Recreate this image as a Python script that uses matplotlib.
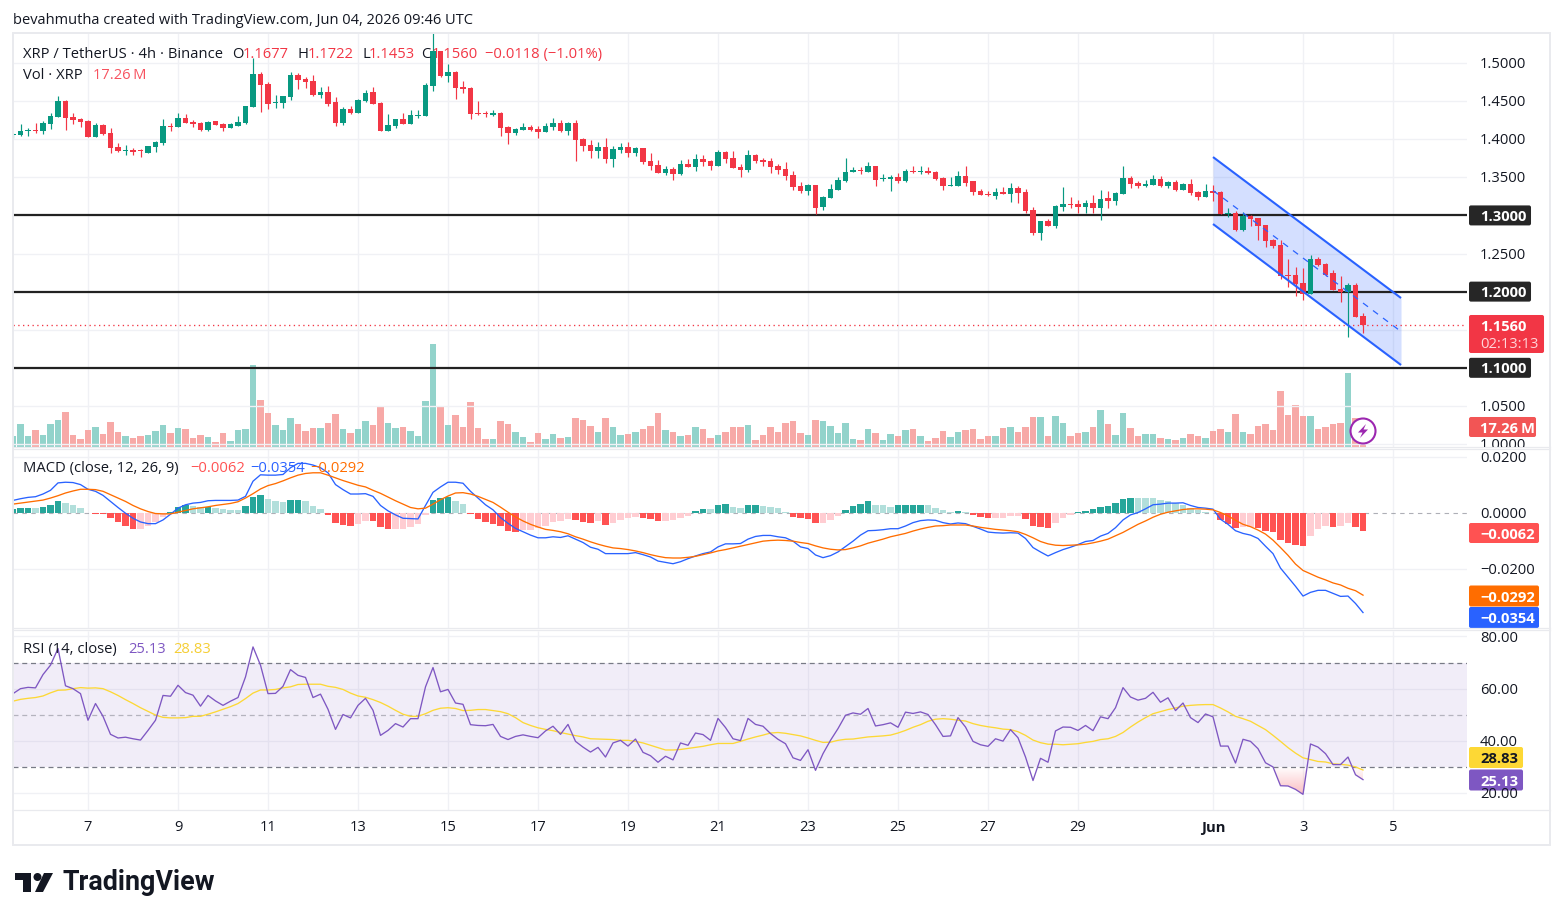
import numpy as np
import matplotlib
matplotlib.use("Agg")
import matplotlib.pyplot as plt
from matplotlib.patches import Rectangle, FancyBboxPatch, Circle, Polygon
from matplotlib.path import Path
from matplotlib.transforms import Bbox

# XRP/USDT 4h candles
opens = [
    1.4051,1.4051,1.4108,1.4121,1.4108,1.4199,1.4291,1.4501,1.4291,1.4265,
    1.4239,1.4029,1.4186,1.4081,1.3898,1.3845,1.3858,1.3858,1.3819,1.3898,
    1.3950,1.4173,1.4160,1.4278,1.4226,1.4213,1.4121,1.4239,1.4199,1.4147,
    1.4173,1.4213,1.4422,1.4856,1.4724,1.4475,1.4475,1.4554,1.4842,1.4790,
    1.4764,1.4580,1.4619,1.4488,1.4213,1.4396,1.4344,1.4501,1.4619,1.4475,
    1.4108,1.4173,1.4265,1.4199,1.4304,1.4304,1.4698,1.5157,1.4829,1.4882,
    1.4685,1.4672,1.4344,1.4344,1.4318,1.4343,1.4160,1.4081,1.4120,1.4160,
    1.4133,1.4094,1.4160,1.4212,1.4107,1.4212,1.4002,1.3923,1.3845,1.3897,
    1.3740,1.3858,1.3897,1.3818,1.3884,1.3713,1.3661,1.3556,1.3608,1.3543,
    1.3674,1.3635,1.3740,1.3713,1.3648,1.3832,1.3753,1.3635,1.3595,1.3792,
    1.3727,1.3713,1.3648,1.3608,1.3530,1.3385,1.3320,1.3399,1.3110,1.3228,
    1.3333,1.3451,1.3569,1.3595,1.3569,1.3648,1.3477,1.3477,1.3503,1.3451,
    1.3582,1.3569,1.3582,1.3569,1.3490,1.3385,1.3385,1.3517,1.3451,1.3321,
    1.3281,1.3255,1.3308,1.3281,1.3360,1.3308,1.3071,1.2770,1.2927,1.2861,
    1.3111,1.3150,1.3150,1.3111,1.3163,1.3098,1.3229,1.3190,1.3281,1.3491,
    1.3426,1.3386,1.3399,1.3478,1.3386,1.3439,1.3334,1.3413,1.3308,1.3242,
    1.3321,1.3308,1.3019,1.3032,1.2809,1.2993,1.2966,1.2874,1.2678,1.2612,
    1.2218,1.2218,1.2113,1.1969,1.2428,1.2363,1.2245,1.2035,1.1995,1.2087,1.1677]
highs = [
    1.4086,1.4199,1.4147,1.4208,1.4243,1.4339,1.4567,1.4514,1.4339,1.4278,
    1.4252,1.4213,1.4199,1.4147,1.3950,1.3924,1.3884,1.3871,1.3911,1.3976,
    1.4265,1.4217,1.4344,1.4331,1.4252,1.4226,1.4239,1.4239,1.4213,1.4208,
    1.4304,1.4436,1.5066,1.4882,1.4755,1.4580,1.4567,1.4882,1.4864,1.4816,
    1.4842,1.4685,1.4698,1.4554,1.4422,1.4436,1.4528,1.4645,1.4685,1.4488,
    1.4331,1.4265,1.4344,1.4383,1.4383,1.4737,1.5389,1.5157,1.4987,1.4891,
    1.4764,1.4685,1.4501,1.4370,1.4383,1.4357,1.4173,1.4147,1.4212,1.4186,
    1.4173,1.4212,1.4278,1.4252,1.4225,1.4252,1.4015,1.3989,1.3963,1.4015,
    1.3910,1.3950,1.3963,1.3897,1.3884,1.3818,1.3727,1.3648,1.3635,1.3727,
    1.3740,1.3805,1.3792,1.3727,1.3858,1.3845,1.3845,1.3674,1.3858,1.3805,
    1.3753,1.3753,1.3674,1.3700,1.3582,1.3438,1.3412,1.3399,1.3254,1.3412,
    1.3503,1.3753,1.3635,1.3635,1.3700,1.3648,1.3543,1.3530,1.3556,1.3608,
    1.3648,1.3648,1.3635,1.3582,1.3503,1.3503,1.3582,1.3648,1.3451,1.3347,
    1.3321,1.3360,1.3373,1.3426,1.3386,1.3347,1.3111,1.2927,1.2953,1.3137,
    1.3373,1.3242,1.3203,1.3203,1.3268,1.3334,1.3321,1.3308,1.3649,1.3518,
    1.3452,1.3465,1.3531,1.3518,1.3452,1.3465,1.3426,1.3478,1.3321,1.3413,
    1.3399,1.3321,1.3098,1.3058,1.3045,1.3006,1.2966,1.2874,1.2691,1.2678,
    1.2428,1.2323,1.2310,1.2481,1.2455,1.2376,1.2284,1.2205,1.2113,1.2113,1.1722]
lows = [
    1.4020,1.4042,1.4042,1.4086,1.4068,1.4134,1.4291,1.4121,1.4199,1.4160,
    1.4029,1.4029,1.4055,1.3819,1.3832,1.3793,1.3793,1.3766,1.3819,1.3832,
    1.3924,1.4108,1.4160,1.4213,1.4160,1.4108,1.4108,1.4186,1.4108,1.4147,
    1.4173,1.4199,1.4422,1.4357,1.4396,1.4409,1.4409,1.4514,1.4659,1.4672,
    1.4567,1.4541,1.4436,1.4173,1.4186,1.4331,1.4344,1.4488,1.4462,1.4108,
    1.4108,1.4147,1.4199,1.4199,1.4278,1.4304,1.4632,1.4816,1.4751,1.4528,
    1.4606,1.4265,1.4318,1.4291,1.4304,1.4042,1.3937,1.4055,1.4120,1.4107,
    1.4015,1.4094,1.4120,1.4094,1.4055,1.3713,1.3845,1.3753,1.3753,1.3687,
    1.3635,1.3818,1.3766,1.3779,1.3674,1.3595,1.3556,1.3530,1.3464,1.3530,
    1.3635,1.3582,1.3648,1.3595,1.3648,1.3687,1.3622,1.3503,1.3569,1.3687,
    1.3648,1.3556,1.3543,1.3464,1.3333,1.3294,1.3267,1.3018,1.3070,1.3228,
    1.3333,1.3438,1.3569,1.3543,1.3569,1.3385,1.3451,1.3320,1.3425,1.3438,
    1.3556,1.3543,1.3543,1.3464,1.3333,1.3385,1.3385,1.3385,1.3267,1.3268,
    1.3255,1.3216,1.3281,1.3176,1.3163,1.3032,1.2743,1.2678,1.2861,1.2835,
    1.3058,1.3098,1.3032,1.3032,1.3032,1.2940,1.3098,1.3137,1.3281,1.3360,
    1.3360,1.3373,1.3399,1.3373,1.3360,1.3321,1.3334,1.3268,1.3203,1.3242,
    1.3190,1.3019,1.2979,1.2796,1.2796,1.2861,1.2678,1.2586,1.2573,1.2166,
    1.2061,1.1943,1.1890,1.1969,1.2336,1.2205,1.2021,1.1864,1.1405,1.1667,1.1453]
closes = [
    1.4068,1.4108,1.4121,1.4108,1.4213,1.4304,1.4501,1.4278,1.4252,1.4226,
    1.4029,1.4186,1.4068,1.3884,1.3845,1.3858,1.3832,1.3845,1.3911,1.3963,
    1.4173,1.4160,1.4278,1.4213,1.4199,1.4121,1.4226,1.4186,1.4147,1.4199,
    1.4226,1.4436,1.4856,1.4711,1.4462,1.4488,1.4567,1.4842,1.4777,1.4751,
    1.4580,1.4619,1.4462,1.4213,1.4396,1.4344,1.4514,1.4606,1.4462,1.4108,
    1.4186,1.4265,1.4199,1.4318,1.4318,1.4711,1.5157,1.4829,1.4882,1.4672,
    1.4659,1.4331,1.4331,1.4331,1.4344,1.4147,1.4081,1.4133,1.4160,1.4120,
    1.4094,1.4173,1.4212,1.4107,1.4212,1.3989,1.3910,1.3845,1.3897,1.3740,
    1.3871,1.3897,1.3818,1.3884,1.3700,1.3648,1.3556,1.3608,1.3543,1.3674,
    1.3635,1.3740,1.3700,1.3648,1.3832,1.3740,1.3622,1.3595,1.3792,1.3713,
    1.3700,1.3635,1.3595,1.3517,1.3372,1.3320,1.3399,1.3097,1.3241,1.3346,
    1.3464,1.3569,1.3595,1.3582,1.3648,1.3464,1.3490,1.3503,1.3451,1.3582,
    1.3569,1.3582,1.3556,1.3477,1.3385,1.3399,1.3517,1.3425,1.3307,1.3268,
    1.3264,1.3308,1.3286,1.3360,1.3294,1.3058,1.2770,1.2927,1.2861,1.3124,
    1.3150,1.3137,1.3111,1.3163,1.3098,1.3216,1.3190,1.3294,1.3491,1.3413,
    1.3386,1.3413,1.3478,1.3386,1.3439,1.3334,1.3413,1.3294,1.3242,1.3321,
    1.3294,1.3019,1.3032,1.2809,1.2993,1.2953,1.2861,1.2665,1.2599,1.2205,
    1.2205,1.2100,1.1969,1.2428,1.2350,1.2218,1.2021,1.1995,1.2087,1.1667,1.1560]

# Traded volume, millions of XRP
volume = [
    9.5,19.9,9.5,14.7,10.4,19.9,23.3,30.2,10.4,6.9,
    14.7,17.3,11.2,21.6,12.9,9.5,7.8,9.5,10.4,13.8,
    19.0,12.1,16.4,15.5,7.8,10.4,8.6,4.3,12.1,5.2,
    14.7,15.5,70.8,40.6,29.3,19.0,14.7,25.0,19.9,13.8,
    16.4,16.4,20.7,28.5,15.5,12.1,15.5,22.4,19.0,35.4,
    20.7,16.4,17.3,13.8,9.5,39.7,88.9,34.5,19.0,27.6,
    17.3,38.8,16.4,6.9,6.9,22.4,19.9,12.9,8.6,4.3,
    12.1,6.9,11.2,7.8,8.6,25.0,23.3,18.1,12.9,25.0,
    17.3,10.4,11.2,12.9,15.5,18.1,29.3,14.7,12.9,9.5,
    10.4,17.3,15.5,7.8,10.4,12.9,17.3,17.3,19.0,6.0,
    10.4,17.3,12.9,20.7,22.4,12.1,10.4,23.3,22.4,18.1,
    12.1,20.7,6.9,6.0,15.5,12.1,6.0,11.2,9.5,14.7,
    15.5,9.5,5.2,7.8,13.8,8.6,12.9,14.7,15.5,6.9,
    9.5,9.5,16.4,17.3,12.9,17.3,25.9,25.9,9.5,26.8,
    20.7,9.5,12.1,12.9,17.3,31.9,19.9,10.4,29.3,16.4,
    9.5,11.2,11.2,7.8,6.9,6.0,7.8,11.2,9.5,7.8,
    13.8,15.5,12.9,28.5,12.9,11.2,18.1,19.9,14.7,48.3,
    27.6,36.2,26.8,26.8,15.5,17.3,19.9,20.7,63.9,25.0,17.26]

# MACD (12, 26, 9), in units of 1e-4
macd_line = [
    45.6,51.6,56.4,58.8,68.4,81.6,108,110.4,109.2,102,
    85.2,78,63.6,42,20.4,0,-18,-31.2,-37.2,-37.2,
    -24,-3.6,18,30,36,38.4,44.4,45.6,45.6,45.6,
    46.8,60,114,136.8,135.6,135.6,138,162,177.6,177.6,
    171.6,162,144,102,84,68.4,68.4,69.6,60,27.6,
    8.4,-6,-18,-19.2,-20.4,27.6,74.4,93.6,110.4,110.4,
    106.8,78,54,30,12,-15.6,-36,-54,-66,-78,
    -87.6,-87.6,-84,-86.4,-80.4,-92.4,-104.4,-121.2,-128.4,-144,
    -144,-144,-144,-140.4,-147.6,-156,-170.4,-175.2,-180,-172.8,
    -162,-152.4,-144,-138,-120,-109.2,-109.2,-108,-92.4,-82.8,
    -79.2,-79.2,-84,-87.6,-99.6,-120,-126,-148.8,-158.4,-151.2,
    -138,-118.8,-99.6,-78,-62.4,-61.2,-58.8,-55.2,-55.2,-45.6,
    -33.6,-26.4,-24,-25.2,-33.6,-38.4,-34.8,-37.2,-46.8,-56.4,
    -67.2,-69.6,-70.8,-69.6,-70.8,-90,-122.4,-138,-152.4,-140.4,
    -129.6,-121.2,-111.6,-100.8,-97.2,-81.6,-72,-51.6,-24,-6,
    2.4,15.6,30,32.4,36,36,37.2,27.6,20.4,18,
    14.4,-21.6,-39.6,-62.4,-72,-78,-90,-117.6,-144,-195.6,
    -228,-260.4,-295.2,-282,-274.8,-274.8,-285.6,-296.4,-295.2,-321.6,-354]
signal_line = [
    32.4,36,39.6,43.2,46.8,54,62.4,72,79.2,85.2,
    85.2,84,78,66,54,42,27.6,15.6,6,-1.2,
    -2.4,-2.4,3.6,9.6,15.6,19.2,22.8,27.6,31.2,34.8,
    40.8,54,69.6,86.4,98.4,105.6,115.2,126,135.6,141.6,
    144,144,135.6,126,116.4,108,99.6,93.6,81.6,70.8,
    57.6,44.4,32.4,20.4,15.6,18,32.4,48,61.2,72,
    73.2,68.4,60,49.2,38.4,21.6,3.6,-13.2,-27.6,-39.6,
    -49.2,-57.6,-61.2,-66,-73.2,-84,-92.4,-102,-110.4,-117.6,
    -123.6,-126,-129.6,-134.4,-140.4,-147.6,-153.6,-158.4,-159.6,-159.6,
    -157.2,-153.6,-147.6,-141.6,-134.4,-129.6,-123.6,-117.6,-111.6,-105.6,
    -99.6,-97.2,-96,-97.2,-99.6,-104.4,-108,-116.4,-123.6,-128.4,
    -130.8,-129.6,-123.6,-116.4,-106.8,-99.6,-92.4,-84,-78,-72,
    -63.6,-56.4,-50.4,-45.6,-44.4,-42,-42,-42,-45.6,-50.4,
    -54,-57.6,-60,-62.4,-66,-75.6,-87.6,-100.8,-109.2,-114,
    -115.2,-114,-112.8,-110.4,-105.6,-99.6,-92.4,-80.4,-68.4,-54,
    -39.6,-27.6,-14.4,-3.6,3.6,8.4,13.2,15.6,15.6,14.4,
    12,2.4,-9.6,-25.2,-39.6,-48,-60,-74.4,-96,-122.4,
    -150,-181.2,-204,-216,-228,-237.6,-248.4,-255.6,-267.6,-276,-292]
macd_hist = [
    14.4,16.8,18,17,21.6,30,43.2,36,28.8,18,
    1.2,-1.2,-3.6,-16.8,-32.4,-46.8,-57.6,-56.4,-46.8,-32.4,
    -12,6,20.4,27.6,27,20.4,21.6,16.8,14.4,12,
    10.8,25.2,58.8,64.8,50.4,42,38.4,46.8,47.5,43.2,
    26.4,15.6,-6,-36,-43.2,-45.6,-39.6,-28.8,-29.5,-50.4,
    -57.6,-57,-55.2,-48,-39.6,-6,48,54,57.6,44.4,
    32.4,-1.2,-21.6,-32.4,-39.6,-44.4,-64.8,-65.5,-61.2,-58.8,
    -54,-45.6,-32.4,-27.6,-21.6,-25.2,-32.4,-36,-28.8,-43.2,
    -34.8,-24,-15.6,-12,-16.8,-21.6,-27.6,-27,-25.2,-18,
    -10.8,7.2,14.4,14,30,32.4,22.8,18,28.8,29.5,
    26.4,21.6,18,6,-12,-16.8,-21.6,-36,-35.5,-25.2,
    -9.6,10.8,25.2,32.4,44.4,30,29.5,22.8,28.8,29.2,
    29.6,30,29,16.8,10.8,4.8,7.2,4.8,-4.8,-14.4,
    -16.8,-16.5,-15.6,-9.6,-9.2,-20.4,-45.6,-50.4,-54,-34.8,
    -18,-6,3.6,9.6,14.4,21.6,25.2,36,50.4,54,
    53.5,53,52.5,48,42,36,30,18,10.8,4.8,
    0.5,-24,-37.2,-54,-50.4,-50,-54,-64.8,-68.4,-94.8,
    -105.6,-111.6,-115.2,-82.8,-57.6,-46.8,-50.4,-46.8,-36,-50.4,-62]

# RSI (14) with its moving average
rsi_line = [
    58.1,60.0,60.5,60.3,65.4,69.0,75.4,61.1,60.0,58.1,
    47.9,54.3,49.4,42.5,41.1,41.4,40.8,40.3,44.0,47.9,
    57.4,57.1,61.3,58.5,57.5,53.3,57.4,55.3,53.6,55.2,
    56.6,64.5,76.0,69.0,58.1,58.2,60.9,67.3,65.1,64.3,
    56.6,57.9,52.1,44.4,50.1,48.8,53.6,56.3,51.7,42.1,
    44.0,46.6,45.3,48.5,48.5,60.7,68.1,58.8,59.7,54.5,
    54.0,46.2,45.9,45.8,46.3,41.7,40.5,41.7,42.3,41.7,
    41.2,43.8,45.6,42.5,46.3,39.8,37.6,35.7,37.5,33.8,
    39.2,40.2,38.0,40.7,35.6,34.3,31.8,34.1,32.7,39.2,
    38.3,43.0,42.4,40.2,48.6,45.1,40.8,40.1,48.6,46.3,
    45.6,42.8,40.6,38.9,33.5,32.5,36.6,28.7,35.1,40.2,
    44.7,49.8,50.7,50.2,52.4,45.7,46.2,46.9,45.2,51.0,
    50.5,51.1,50.1,46.2,41.7,41.9,48.9,45.3,39.8,38.5,
    37.9,40.8,39.9,44.3,41.2,33.8,24.8,33.3,31.8,43.8,
    45.3,45.2,44.0,45.9,43.9,49.2,48.5,52.7,60.4,56.8,
    55.6,56.3,58.6,54.8,56.5,51.6,54.5,48.9,47.0,50.3,
    49.2,38.0,38.0,31.5,40.6,39.8,37.0,31.6,30.0,22.8,
    22.7,21.4,19.5,38.8,37.6,35.1,30.9,30.9,33.8,27.0,25.13]
rsi_ma = [
    55.2,55.9,56.3,56.6,57.2,58.4,59.4,59.5,60.0,60.4,
    60.2,60.3,60.0,58.8,57.4,55.8,54.3,52.7,51.3,49.9,
    49.0,48.8,48.8,48.9,49.4,49.4,50.2,51.1,52.1,53.1,
    54.3,56.2,58.3,59.5,59.5,59.7,60.3,60.7,61.6,61.7,
    61.7,61.7,60.9,60.5,59.7,58.3,57.2,56.7,55.8,54.7,
    53.3,51.7,50.2,49.4,49.4,50.4,51.7,52.5,52.7,52.4,
    51.6,51.7,52.0,52.0,51.6,51.2,50.4,48.9,47.0,45.9,
    45.0,44.4,43.9,43.2,42.6,42.0,41.5,40.8,40.7,40.6,
    40.5,40.2,40.2,39.8,39.2,38.3,37.4,36.5,36.5,36.7,
    37.1,37.5,37.9,38.5,39.0,39.0,39.0,39.8,40.7,41.5,
    42.2,43.0,43.2,42.9,42.4,41.9,41.1,40.2,39.4,39.5,
    40.2,40.6,40.7,41.1,41.5,41.7,41.9,42.2,43.0,44.0,
    45.2,46.2,47.5,48.3,48.5,48.3,47.9,47.6,46.6,45.9,
    45.4,45.0,44.5,44.3,43.5,42.1,40.3,39.3,38.7,38.7,
    38.5,38.7,38.9,39.4,39.8,40.5,40.8,41.7,43.2,45.3,
    47.2,48.9,50.4,51.2,52.0,52.6,53.3,53.6,53.8,53.9,
    53.9,52.6,51.1,49.4,48.5,47.5,45.9,44.3,42.1,39.8,
    37.4,35.3,33.5,32.8,32.1,31.9,31.2,31.0,30.7,30.0,28.83]

# Axis ticks and annotated levels
price_ticks = [1.50, 1.45, 1.40, 1.35, 1.25, 1.05, 1.00]
price_grid = [1.50, 1.45, 1.40, 1.35, 1.30, 1.25, 1.20, 1.15, 1.10, 1.05, 1.00]
level_lines = [1.30, 1.20, 1.10]
macd_ticks = [0.02, 0.0, -0.02]
rsi_ticks = [80, 60, 40, 20]
date_positions = [10, 22, 34, 46, 58, 70, 82, 94, 106, 118, 130, 142, 160, 172, 184]
date_labels = ["7", "9", "11", "13", "15", "17", "19", "21", "23", "25", "27", "29", "Jun", "3", "5"]

# Descending channel, candle index and price of its ends
channel_x = [160, 185.07]
channel_top = [1.3766, 1.1916]
channel_mid = [1.3327, 1.1476]
channel_bot = [1.2887, 1.1037]

WIDTH, HEIGHT = 1563, 920
GREEN, RED = "#089981", "#F23645"
VOL_GREEN, VOL_RED = "#92D3CB", "#F7A9A7"
GRID = "#F0F1F5"
TEXT = "#131722"
BLUE, ORANGE = "#2962FF", "#FF6D00"
PURPLE, YELLOW = "#7E57C2", "#FDD835"
FONT = "Open Sans"

plt.rcParams["font.family"] = [FONT, "DejaVu Sans"]

# A hair over the nominal size so the canvas does not round down a pixel
fig = plt.figure(figsize=((WIDTH + 0.01) / 100, (HEIGHT + 0.01) / 100), dpi=100, facecolor="white")


def pane(x0, y0, x1, y1, zorder=1):
    """Axes placed by pixel edges, with the origin at the top left."""
    ax = fig.add_axes([x0 / WIDTH, 1 - y1 / HEIGHT, (x1 - x0) / WIDTH, (y1 - y0) / HEIGHT], zorder=zorder)
    for side in ax.spines.values():
        side.set_visible(False)
    ax.tick_params(left=False, bottom=False, labelleft=False, labelbottom=False)
    ax.patch.set_alpha(0)
    return ax


PLOT_L, PLOT_R = 13, 1467
XMAX = (PLOT_R - PLOT_L) / 7.5
idx = np.arange(len(closes))
o, h, l, c = map(np.array, (opens, highs, lows, closes))
up = c >= o

# Volume sits behind the candles in the same pane
ax_vol = pane(PLOT_L, 33, PLOT_R, 447, zorder=1)
ax_vol.set_xlim(0, XMAX)
ax_vol.set_ylim(0, 357.3)
ax_vol.vlines(date_positions, 0, 357.3, color=GRID, lw=1.0, zorder=0)
ax_vol.bar(idx, volume, width=0.84, color=[VOL_GREEN if u else VOL_RED for u in up], linewidth=0, zorder=1)

ax = pane(PLOT_L, 33, PLOT_R, 447, zorder=2)
ax.set_xlim(0, XMAX)
ax.set_ylim(0.9961, 1.5394)
ax.hlines(price_grid, 0, XMAX, color=GRID, lw=1.0, zorder=0)
ax.vlines(idx, l, h, color=[GREEN if u else RED for u in up], lw=0.85, zorder=3)
ax.bar(idx, np.abs(c - o), bottom=np.minimum(o, c), width=0.68,
       color=[GREEN if u else RED for u in up], linewidth=0, zorder=3)

# Support and resistance levels and the last-price line
ax.hlines(level_lines, 0, XMAX, color="#222222", lw=1.6, zorder=2)
ax.hlines(closes[-1], 0, XMAX, color=RED, lw=0.95, linestyles=(0, (1, 2.6)), zorder=2)

ax.fill_between(channel_x, channel_bot, channel_top, color=BLUE, alpha=0.2, linewidth=0, zorder=1)
ax.plot(channel_x, channel_top, color=BLUE, lw=1.5, zorder=4, solid_capstyle="butt")
ax.plot(channel_x, channel_bot, color=BLUE, lw=1.5, zorder=4, solid_capstyle="butt")
ax.plot(channel_x, channel_mid, color=BLUE, lw=0.9, ls=(0, (5, 5)), zorder=4)

# MACD pane
ax_macd = pane(PLOT_L, 449, PLOT_R, 628)
ax_macd.set_xlim(0, XMAX)
ax_macd.set_ylim(-0.0409, 0.02288)
ax_macd.hlines([0.02, -0.02], 0, XMAX, color=GRID, lw=1.0, zorder=0)
ax_macd.vlines(date_positions, -0.0409, 0.02288, color=GRID, lw=1.0, zorder=0)
hist = np.array(macd_hist) / 1e4
prev = np.r_[hist[0], hist[:-1]]
hist_colors = []
for cur, before in zip(hist, prev):
    if cur >= 0:
        hist_colors.append("#26A69A" if cur >= before else "#B2DFDB")
    else:
        hist_colors.append("#FF5252" if cur <= before else "#FFCDD2")
ax_macd.axhline(0, color="#787B86", lw=0.8, ls=(0, (4, 4)), alpha=0.6, zorder=1)
ax_macd.bar(idx, hist, width=0.84, color=hist_colors, linewidth=0, zorder=2)
ax_macd.plot(idx, np.array(macd_line) / 1e4, color=BLUE, lw=0.95, zorder=3)
ax_macd.plot(idx, np.array(signal_line) / 1e4, color=ORANGE, lw=0.95, zorder=3)

# RSI pane
ax_rsi = pane(PLOT_L, 631, PLOT_R, 810)
ax_rsi.set_xlim(0, XMAX)
ax_rsi.set_ylim(13.5, 82.1)
ax_rsi.hlines(rsi_ticks, 0, XMAX, color=GRID, lw=1.0, zorder=0)
ax_rsi.vlines(date_positions, 13.5, 82.1, color=GRID, lw=1.0, zorder=0)
ax_rsi.axhspan(30, 70, color=PURPLE, alpha=0.1, linewidth=0, zorder=1)
ax_rsi.hlines([70, 30], 0, XMAX, color="#787B86", lw=0.9, linestyles=(0, (4, 3)), zorder=2)
ax_rsi.hlines(50, 0, XMAX, color="#787B86", lw=0.9, linestyles=(0, (4, 3)), alpha=0.5, zorder=2)
rsi = np.array(rsi_line)
oversold = ax_rsi.fill_between(idx, rsi, 30, where=rsi < 30, interpolate=True, alpha=0)
ramp = np.zeros((64, 2, 4))
ramp[..., :3] = matplotlib.colors.to_rgb("#F23645")
ramp[..., 3] = np.linspace(0.32, 0.0, 64)[:, None]
shade = ax_rsi.imshow(ramp, extent=(0, XMAX, 19.5, 30), origin="lower", aspect="auto", zorder=2)
verts = [p for p in oversold.get_paths() if len(p.vertices) > 6]
shade.set_clip_path(Path.make_compound_path(*verts), transform=ax_rsi.transData)
ax_rsi.set_xlim(0, XMAX)
ax_rsi.set_ylim(13.5, 82.1)
ax_rsi.plot(idx, rsi_ma, color=YELLOW, lw=0.95, zorder=3)
ax_rsi.plot(idx, rsi, color=PURPLE, lw=0.95, zorder=4)

# Labels, boxes and furniture in pixel space
ov = fig.add_axes([0, 0, 1, 1], zorder=10)
ov.set_xlim(0, WIDTH)
ov.set_ylim(HEIGHT, 0)
ov.axis("off")
ov.patch.set_alpha(0)

ov.add_patch(Rectangle((13, 33), 1537, 812, fill=False, ec="#E9EAEE", lw=1.4))
for y in (447.5, 449.5, 628.5, 630.5, 810):
    ov.plot([13, 1550], [y, y], color="#E9EAEE", lw=0.9)

# Open Sans sits high in its line box, so centred text is nudged down
TEXT_NUDGE = 1.6


def label(x, y, s, color=TEXT, size=10.6, **kw):
    kw.setdefault("va", "center")
    kw.setdefault("ha", "left")
    return ov.text(x, y + TEXT_NUDGE, s, color=color, fontsize=size, **kw)


def y_of(axes, value):
    return fig.bbox.height - axes.transData.transform((0, value))[1]


def tag(y, s, color, right, text_color="white", height=20, weight="bold", x0=1469):
    ov.add_patch(FancyBboxPatch((x0, y - height / 2), right - x0, height,
                                boxstyle="round,pad=0,rounding_size=2", fc=color, ec="none"))
    label(1480, y, s, color=text_color, weight=weight)


label(13, 18.5, "bevahmutha created with TradingView.com, Jun 04, 2026 09:46 UTC", size=10.5)
label(23, 53, "XRP / TetherUS · 4h · Binance")
for x, s, col in [(232, "O", TEXT), (243, "1.1677", RED), (297, "H", TEXT), (308, "1.1722", RED),
                  (362, "L", TEXT), (369, "1.1453", RED), (421, "C", TEXT), (432, "1.1560", RED),
                  (485, "−0.0118 (−1.01%)", RED)]:
    label(x, 53, s, color=col)
label(23, 74, "Vol · XRP")
label(93, 74, "17.26\u2009M", color="#F7525F")
label(23, 467, "MACD (close, 12, 26, 9)")
label(190, 467, "−0.0062", color="#FF5252")
label(250, 467, "−0.0354", color=BLUE)
label(310, 467, "−0.0292", color=ORANGE)
label(23, 648, "RSI (14, close)")
label(128, 648, "25.13", color=PURPLE)
label(173, 648, "28.83", color="#F5CE35")

for v in price_ticks:
    t = label(1480, y_of(ax, v), f"{v:.4f}")
    t.set_clip_on(True)
    t.set_clip_box(Bbox([[1468, 920 - 447], [1550, 920 - 33]]))
for v in level_lines:
    tag(y_of(ax, v), f"{v:.4f}", "#262626", 1531)

ov.add_patch(FancyBboxPatch((1469, 315), 75, 38, boxstyle="round,pad=0,rounding_size=2", fc=RED, ec="none"))
label(1480, 325, f"{closes[-1]:.4f}", color="white", weight="bold")
label(1480, 343, "02:13:13", color="#FFD5D9")
tag(427, "17.26\u2009M", "#F25555", 1536)

for v in macd_ticks:
    label(1480, y_of(ax_macd, v), f"{v:.4f}".replace("-", "−"))
tag(533, "−0.0062", "#FF5252", 1539)
tag(596, "−0.0292", ORANGE, 1539, height=21)
tag(617.5, "−0.0354", BLUE, 1539, height=21)

for v in rsi_ticks:
    label(1480, y_of(ax_rsi, v), f"{v:.2f}")
tag(757.5, "28.83", YELLOW, 1523, text_color=TEXT, height=21)
tag(780, "25.13", PURPLE, 1523, height=21)

for pos, s in zip(date_positions, date_labels):
    label(13 + 7.5 * pos, 826, s, ha="center", weight="bold" if s == "Jun" else "normal")

# Data-source badge beside the last bar
ov.add_patch(Circle((1363, 431), 12.5, fc="white", ec="#9C27B0", lw=1.5))
ov.add_patch(Polygon([(1366, 424), (1358, 432.5), (1362.5, 432.5), (1360, 438), (1368, 429.5), (1363.5, 429.5)],
                     fc="#9C27B0", ec="none"))

# Brand mark in the footer
ov.add_patch(Polygon([(15, 873), (31, 873), (31, 892), (23, 892), (23, 880.5), (15, 880.5)], fc="#131722", ec="none"))
ov.add_patch(Polygon([(44, 873), (53, 873), (43, 892), (35, 892)], fc="#131722", ec="none"))
ov.add_patch(Circle((37.5, 877), 4, fc="#131722", ec="none"))
label(62, 881, "TradingView", size=19.4, weight="bold", family="Roboto")

fig.savefig("out.png", dpi=100, facecolor="white")
